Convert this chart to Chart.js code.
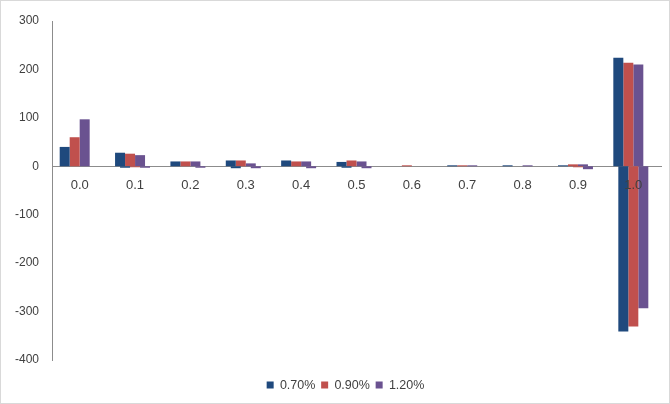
<!DOCTYPE html>
<html>
<head>
<meta charset="utf-8">
<script src="https://cdn.jsdelivr.net/npm/chart.js@4.4.1/dist/chart.umd.min.js"></script>
<style>
  html, body { margin: 0; padding: 0; background: #ffffff; }
  #wrap { width: 670px; height: 404px; position: relative; }
  canvas { display: block; }
</style>
</head>
<body>
<div id="wrap"><canvas id="c" width="670" height="404"></canvas></div>
<script>
// Category labels along the horizontal axis
const categories = ['0.0', '0.1', '0.2', '0.3', '0.4', '0.5', '0.6', '0.7', '0.8', '0.9', '1.0'];

// Series names
const seriesNames = ['0.70%', '0.90%', '1.20%'];

// Positive parts of each series
const pos070 = [40, 28, 10, 12, 12, 9, 0, 2, 2, 2, 224];
const pos090 = [60, 26, 10, 12, 10, 12, 2, 2, 0, 4, 214];
const pos120 = [97, 23, 10, 6, 10, 10, 0, 2, 2, 4, 210];

// Negative parts of each series
const neg070 = [0, -3, 0, -4, 0, -3, 0, 0, 0, 0, -341];
const neg090 = [0, -2, 0, 0, 0, 0, 0, 0, 0, -2, -331];
const neg120 = [0, -3, -3, -4, -4, -4, 0, 0, 0, -6, -293];

// Value axis ticks
const yTicks = [300, 200, 100, 0, -100, -200, -300, -400];

const colors = ['#1F497D', '#C0504D', '#6A5290'];
const textColor = '#404040';
const axisColor = '#8C8C8C';
const fontFamily = 'Liberation Sans';

// Bars sit in half-width slots and span two of them, so each negative bar
// lands half a bar to the right of its positive counterpart.
// Slot order: +0.70, -0.70, +0.90, -0.90, +1.20, -1.20, spare.
const barCommon = { barPercentage: 2, categoryPercentage: 0.632 };
const posSets = [pos070, pos090, pos120];
const negSets = [neg070, neg090, neg120];

const datasets = [];
seriesNames.forEach((name, i) => {
  datasets.push(Object.assign({
    label: name, data: posSets[i], backgroundColor: colors[i], stack: 'p' + i
  }, barCommon));
  datasets.push(Object.assign({
    label: name, data: negSets[i], backgroundColor: colors[i], stack: 'n' + i
  }, barCommon));
});
datasets.push(Object.assign({
  label: '', data: categories.map(() => null), stack: 'spare'
}, barCommon));

// White page with a thin frame
const framePlugin = {
  id: 'frame',
  beforeDraw(chart) {
    const ctx = chart.ctx;
    ctx.save();
    ctx.fillStyle = '#ffffff';
    ctx.fillRect(0, 0, chart.width, chart.height);
    ctx.strokeStyle = '#D9D9D9';
    ctx.lineWidth = 1;
    ctx.strokeRect(0.5, 0.5, chart.width - 1, chart.height - 1);
    ctx.restore();
  }
};

// Nudge the legend row down and slightly right of the default spot
const legendOffsetY = 13;
const legendOffsetX = 15;
const legendShift = {
  id: 'legendShift',
  afterLayout(chart) {
    const lg = chart.legend;
    if (lg) {
      lg.top += legendOffsetY;
      lg.bottom += legendOffsetY;
      lg.left += legendOffsetX;
      lg.right += legendOffsetX;
    }
  }
};

new Chart(document.getElementById('c'), {
  type: 'bar',
  data: { labels: categories, datasets },
  plugins: [framePlugin, legendShift],
  options: {
    responsive: false,
    animation: false,
    layout: { padding: { top: 21, right: 9, bottom: 15.7, left: 0 } },
    plugins: {
      tooltip: { enabled: false },
      legend: {
        position: 'bottom',
        labels: {
          boxWidth: 7, boxHeight: 7, padding: 5.8,
          color: textColor,
          font: { family: fontFamily, size: 12.5 },
          // one entry per series (the positive datasets)
          filter: (item) => item.datasetIndex < 6 && item.datasetIndex % 2 === 0
        }
      }
    },
    scales: {
      x: {
        position: { y: 0 },
        grid: { display: false },
        border: { display: true, color: axisColor, width: 1 },
        // labels are painted above the bars
        ticks: { z: 1, color: textColor, padding: 3, font: { family: fontFamily, size: 13 } }
      },
      y: {
        min: -400, max: 300,
        afterFit(scale) { scale.width = 52; },
        afterBuildTicks(scale) { scale.ticks = yTicks.map(v => ({ value: v })); },
        grid: { display: false },
        border: { display: true, color: axisColor, width: 1 },
        ticks: { color: textColor, padding: 5, font: { family: fontFamily, size: 12 } }
      }
    }
  }
});
</script>
</body>
</html>
